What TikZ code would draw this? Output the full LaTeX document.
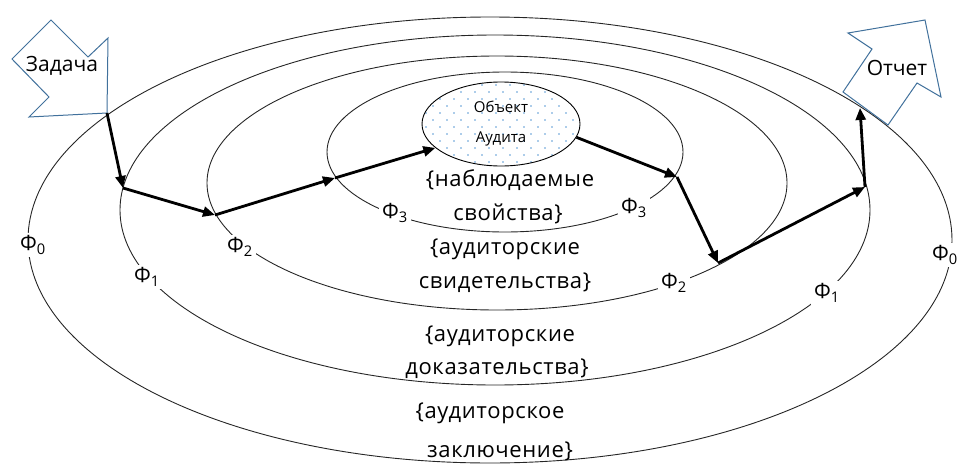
\documentclass[tikz,border=0pt]{standalone}
\usepackage{fontspec}
\setmainfont{Open Sans}
\usetikzlibrary{shapes.geometric,arrows.meta,calc}
\definecolor{arrowblue}{HTML}{41719C}
\definecolor{dotblue}{HTML}{5B9BD5}
\begin{document}
\begin{tikzpicture}[x=1pt,y=-1pt,
  ring/.style={line width=0.9pt, draw=black!85},
  flow/.style={line width=2.8pt, -{Triangle[length=12pt,width=10pt]}},
  blockarrow/.style={draw=arrowblue, fill=white, line width=1pt, line join=miter},
  phi/.style={fill=white, inner sep=3pt, font=\fontsize{21}{22}\selectfont},
  body/.style={font=\fontsize{22}{24}\selectfont\addfontfeature{LetterSpace=3}},
  big/.style={font=\fontsize{21}{24}\selectfont}]
\useasboundingbox (0,0) rectangle (958,466);
% nested rings
\draw[ring] (490,240) ellipse [x radius=462pt, y radius=223pt];
\draw[ring] (495,210) ellipse [x radius=375pt, y radius=175pt];
\draw[ring] (497,183) ellipse [x radius=290pt, y radius=127pt];
\draw[ring] (505,152) ellipse [x radius=178pt, y radius=80pt];
% ring labels
\node[phi] (f0l) at (33,245) {Φ\textsubscript{0}};
\node[phi] (f0r) at (945,255) {Φ\textsubscript{0}};
\node[phi] (f1l) at (147,277) {Φ\textsubscript{1}};
\node[phi] (f1r) at (827,293) {Φ\textsubscript{1}};
\node[phi] (f2l) at (240,247) {Φ\textsubscript{2}};
\node[phi] (f2r) at (674,283) {Φ\textsubscript{2}};
\node[phi] (f3l) at (395,213) {Φ\textsubscript{3}};
\node[phi] (f3r) at (634,208) {Φ\textsubscript{3}};
% set texts
\node[body] (t1a) at (510,180) {\{наблюдаемые};
\node[body] (t1b) at (508,214) {свойства\}};
\node[body] (t2a) at (505,249) {\{аудиторские};
\node[body] (t2b) at (505,283) {свидетельства\}};
\node[body] (t3a) at (500,336) {\{аудиторские};
\node[body] (t3b) at (497,369) {доказательства\}};
\node[body] (t4a) at (490,413) {\{аудиторское};
\node[body] (t4b) at (500,451) {заключение\}};
% object of audit
\node[ellipse, draw=black, line width=0.9pt, fill=white, minimum width=158pt, minimum height=84pt,
  inner sep=0pt, align=center, font=\fontsize{15}{30}\selectfont,
  path picture={
    \foreach \r in {0,...,12} {
      \foreach \c [evaluate=\c as \dx using {\c*14+mod(\r,2)*7+4}] in {0,...,12} {
        \fill[dotblue] ($(path picture bounding box.north west)+({\dx},{\r*7+3})$) circle (0.8pt);
      }
    }
  }] (obj) at (501,124) {Объект\\Аудита};
% task and report block arrows
\draw[blockarrow] (51,20) -- (88,57) -- (108,38) -- (107,113) -- (29,117) -- (49,97) -- (12,59) -- cycle;
\node[big] (zad) at (62,66) {Задача};
\draw[blockarrow] (925,20) -- (941,97) -- (917,83) -- (888,125) -- (843,92) -- (872,49) -- (848,33) -- cycle;
\node[big] (otch) at (897,68) {Отчет};
% flow path
\coordinate (t0) at (107,113);
\coordinate (w1) at (123,188);
\coordinate (w2) at (215,215);
\coordinate (w3) at (335,178);
\coordinate (w5) at (677,177);
\coordinate (w6) at (718,263);
\coordinate (w7) at (865,187);
\coordinate (t8) at (860,108);
\draw[flow] (t0) -- (w1);
\draw[flow] (w1) -- (w2);
\draw[flow] (w2) -- (w3);
\draw[flow] (w3) -- (obj.200);
\draw[flow] (obj.350) -- (w5);
\draw[flow] (w5) -- (w6);
\draw[flow] (w6) -- (w7);
\draw[flow] (w7) -- (t8);
\end{tikzpicture}
\end{document}
